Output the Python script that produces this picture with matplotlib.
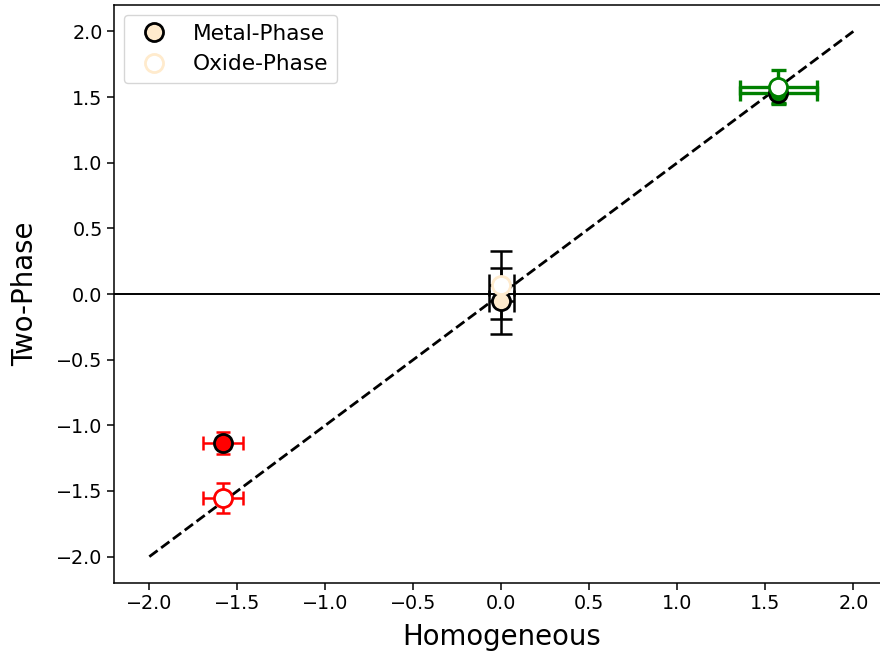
import matplotlib
matplotlib.use("Agg")
from matplotlib import pyplot as plt

# homogeneous (x) vs two-phase (y) values, three points each phase
x_vals = [-1.582, 1.574, 0.0]
x_err = [0.114, 0.218, 0.071]

metal_y = [-1.135, 1.53, -0.052]
metal_yerr = [0.081, 0.08, 0.253]

oxide_y = [-1.556, 1.58, 0.069]
oxide_yerr = [0.114, 0.125, 0.259]

point_colors = ["red", "green", "black"]
metal_fill = ["red", "green", "blanchedalmond"]
oxide_edge = ["red", "green", "blanchedalmond"]
cap_sizes = [4.7, 5.4, 8.0]
err_widths = [1.8, 2.4, 1.8]

fig = plt.figure(figsize=(8.8, 6.56), dpi=100)
ax = fig.add_axes([0.1297, 0.1114, 0.88, 0.8808])

# identity line and zero line
ax.plot([-2, 2], [-2, 2], color="black", linestyle="--", linewidth=2.0, zorder=2)
ax.axhline(0, color="black", linewidth=1.4, zorder=1)

for i in range(len(x_vals)):
    for yv, ye in [(metal_y[i], metal_yerr[i]), (oxide_y[i], oxide_yerr[i])]:
        ax.errorbar(
            x_vals[i],
            yv,
            xerr=x_err[i],
            yerr=ye,
            fmt="none",
            ecolor=point_colors[i],
            elinewidth=err_widths[i],
            capsize=cap_sizes[i],
            capthick=err_widths[i],
            zorder=3,
        )
    ax.plot(
        x_vals[i],
        metal_y[i],
        "o",
        markersize=13,
        markerfacecolor=metal_fill[i],
        markeredgecolor="black",
        markeredgewidth=2.0,
        label="Metal-Phase" if i == 2 else None,
        zorder=4,
    )
    ax.plot(
        x_vals[i],
        oxide_y[i],
        "o",
        markersize=13,
        markerfacecolor="white",
        markeredgecolor=oxide_edge[i],
        markeredgewidth=2.0,
        label="Oxide-Phase" if i == 2 else None,
        zorder=5,
    )

ax.set_xlim(-2.2, 2.2)
ax.set_ylim(-2.2, 2.2)
ax.set_xticks([-2.0, -1.5, -1.0, -0.5, 0.0, 0.5, 1.0, 1.5, 2.0])
ax.set_yticks([-2.0, -1.5, -1.0, -0.5, 0.0, 0.5, 1.0, 1.5, 2.0])
ax.tick_params(labelsize=13.75, length=4.8, width=1.1)
for sp in ax.spines.values():
    sp.set_linewidth(1.1)

ax.set_xlabel("Homogeneous", fontsize=19.8, labelpad=7)
ax.set_ylabel("Two-Phase", fontsize=19.8, labelpad=12)
ax.legend(loc="upper left", fontsize=15.6, borderaxespad=0.45)

fig.savefig("out.png", dpi=100)
